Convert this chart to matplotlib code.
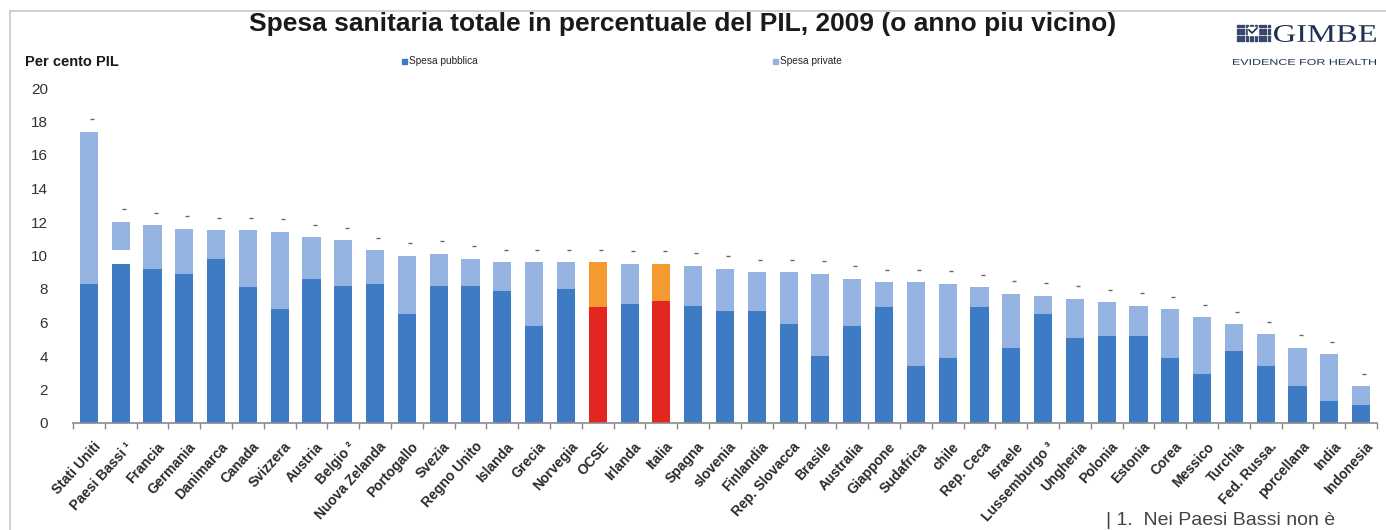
import matplotlib
matplotlib.use("Agg")
import matplotlib.pyplot as plt
from matplotlib.textpath import TextPath
from matplotlib.patches import PathPatch, Rectangle
from matplotlib.font_manager import FontProperties
from matplotlib.transforms import Affine2D, IdentityTransform, ScaledTranslation
from matplotlib.lines import Line2D
import numpy as np

plt.rcParams['font.family'] = ['Liberation Sans', 'DejaVu Sans']

countries = ["Stati Uniti", "Paesi Bassi \u00b9", "Francia", "Germania", "Danimarca",
             "Canada", "Svizzera", "Austria", "Belgio \u00b2", "Nuova Zelanda",
             "Portogallo", "Svezia", "Regno Unito", "Islanda", "Grecia", "Norvegia",
             "OCSE", "Irlanda", "Italia", "Spagna", "slovenia", "Finlandia",
             "Rep. Slovacca", "Brasile", "Australia", "Giappone", "Sudafrica", "chile",
             "Rep. Ceca", "Israele", "Lussemburgo \u00b3", "Ungheria", "Polonia",
             "Estonia", "Corea", "Messico", "Turchia", "Fed. Russa.", "porcellana",
             "India", "Indonesia"]
public = [8.3, 9.5, 9.2, 8.9, 9.8, 8.1, 6.8, 8.6, 8.2, 8.3,
          6.5, 8.2, 8.2, 7.9, 5.8, 8.0, 6.9, 7.1, 7.3, 7.0,
          6.7, 6.7, 5.9, 4.0, 5.8, 6.9, 3.4, 3.9, 6.9, 4.5,
          6.5, 5.1, 5.2, 5.2, 3.9, 2.9, 4.3, 3.4, 2.2, 1.3, 1.1]
gap = [0, 0.8] + [0] * 39
private = [9.1, 1.7, 2.6, 2.7, 1.7, 3.4, 4.6, 2.5, 2.7, 2.0,
           3.5, 1.9, 1.6, 1.7, 3.8, 1.6, 2.7, 2.4, 2.2, 2.4,
           2.5, 2.3, 3.1, 4.9, 2.8, 1.5, 5.0, 4.4, 1.2, 3.2,
           1.1, 2.3, 2.0, 1.8, 2.9, 3.4, 1.6, 1.9, 2.3, 2.8, 1.1]
highlight = ["OCSE", "Italia"]
yticks = [0, 2, 4, 6, 8, 10, 12, 14, 16, 18, 20]

C_PUB = "#3d7cc4"
C_PRIV = "#95b3e0"
C_PUB_H = "#e3261f"
C_PRIV_H = "#f49a30"

W, H = 1386, 530
fig = plt.figure(figsize=(W / 100, H / 100), dpi=100)
fig.patch.set_facecolor("white")

ax = fig.add_axes([73 / W, 1 - 423 / H, (1377 - 73) / W, (423 - 88) / H])
x = np.arange(len(countries))
pub_c = [C_PUB_H if c in highlight else C_PUB for c in countries]
priv_c = [C_PRIV_H if c in highlight else C_PRIV for c in countries]
pub = np.array(public)
gp = np.array(gap)
pr = np.array(private)
bw = 0.57
ax.bar(x, pub, width=bw, color=pub_c, linewidth=0)
ax.bar(x, pr, bottom=pub + gp, width=bw, color=priv_c, linewidth=0)
# small dash marks above bars
ax.scatter(x + 0.1, pub + gp + pr + 0.75, marker="_", s=8, color="#666666",
           linewidths=1.0, zorder=3)

ax.set_xlim(-0.5, len(countries) - 0.5)
ax.set_ylim(0, 20)
for s in ["top", "right", "left"]:
    ax.spines[s].set_visible(False)
ax.spines["bottom"].set_color("#8a8a8a")
ax.spines["bottom"].set_linewidth(1.2)
ax.set_yticks(yticks)
ax.set_yticklabels([str(v) for v in yticks], fontsize=11, color="#333333")
ax.tick_params(axis="y", length=0, pad=18)
ax.set_xticks(x)
ax.set_xticklabels(countries, rotation=48, ha="right", rotation_mode="anchor",
                   fontsize=10, fontweight="bold", color="#2a2a2a")
ax.tick_params(axis="x", length=0, pad=12)
off = ScaledTranslation(4 / 100, 0, fig.dpi_scale_trans)
for lab in ax.get_xticklabels():
    lab.set_transform(lab.get_transform() + off)
ax.set_xticks(np.arange(-0.5, len(countries), 1), minor=True)
ax.tick_params(axis="x", which="minor", length=4, color="#8a8a8a", width=1)

# frame lines
fig.add_artist(Line2D([10 / W, 1], [1 - 11 / H, 1 - 11 / H], color="#c8c8c8", lw=1.2))
fig.add_artist(Line2D([10 / W, 10 / W], [0, 1 - 11 / H], color="#c8c8c8", lw=1.2))

# title
fig.text(683 / W, 1 - 24 / H,
         "Spesa sanitaria totale in percentuale del PIL, 2009 (o anno piu vicino)",
         ha="center", va="center", fontsize=19, fontweight="bold", color="#1a1a1a")
fig.text(25 / W, 1 - 62 / H, "Per cento PIL", ha="left", va="center",
         fontsize=10.5, fontweight="bold", color="#1a1a1a")

# legend
fig.add_artist(Rectangle((402 / W, 1 - 64 / H), 5 / W, 5 / H, color=C_PUB,
                         transform=fig.transFigure))
fig.text(409 / W, 1 - 61.5 / H, "Spesa pubblica", ha="left", va="center",
         fontsize=7.3, color="#222222")
fig.add_artist(Rectangle((773 / W, 1 - 64 / H), 5 / W, 5 / H, color=C_PRIV,
                         transform=fig.transFigure))
fig.text(780 / W, 1 - 61.5 / H, "Spesa private", ha="left", va="center",
         fontsize=7.3, color="#222222")

# GIMBE logo
navy = "#1f3050"
def place_text(s, x0, y0, w, h, family, weight="normal"):
    tp = TextPath((0, 0), s, size=100, prop=FontProperties(family=family, weight=weight))
    bb = tp.get_extents()
    sx = w / bb.width
    sy = h / bb.height
    tr = Affine2D().translate(-bb.x0, -bb.y0).scale(sx, sy).translate(x0, H - y0)
    patch = PathPatch(tr.transform_path(tp), facecolor=navy, edgecolor="none",
                      transform=IdentityTransform())
    fig.add_artist(patch)

place_text("GIMBE", 1274, 42, 102, 17, "Liberation Serif")
place_text("EVIDENCE FOR HEALTH", 1233, 65, 143, 6, "Liberation Sans")
for i in range(8):
    for j in range(5):
        fig.add_artist(Rectangle(((1237 + i * 4.4) / W, 1 - (25 + j * 3.5) / H - 2.4 / H),
                                 2.6 / W, 2.4 / H, color="#35476a",
                                 transform=fig.transFigure))
fig.add_artist(Rectangle((1248 / W, 1 - 35 / H), 10 / W, 8 / H, color="white",
                         transform=fig.transFigure))
fig.add_artist(Line2D([1249 / W, 1252 / W, 1257 / W],
                      [1 - 30 / H, 1 - 33 / H, 1 - 28 / H], color=navy, lw=1.2))

# footnote
fig.text(1106 / W, 1 - 512 / H, "| 1.  Nei Paesi Bassi non \u00e8", ha="left", va="top",
         fontsize=14, color="#444444")

fig.savefig("out.png", dpi=100)
